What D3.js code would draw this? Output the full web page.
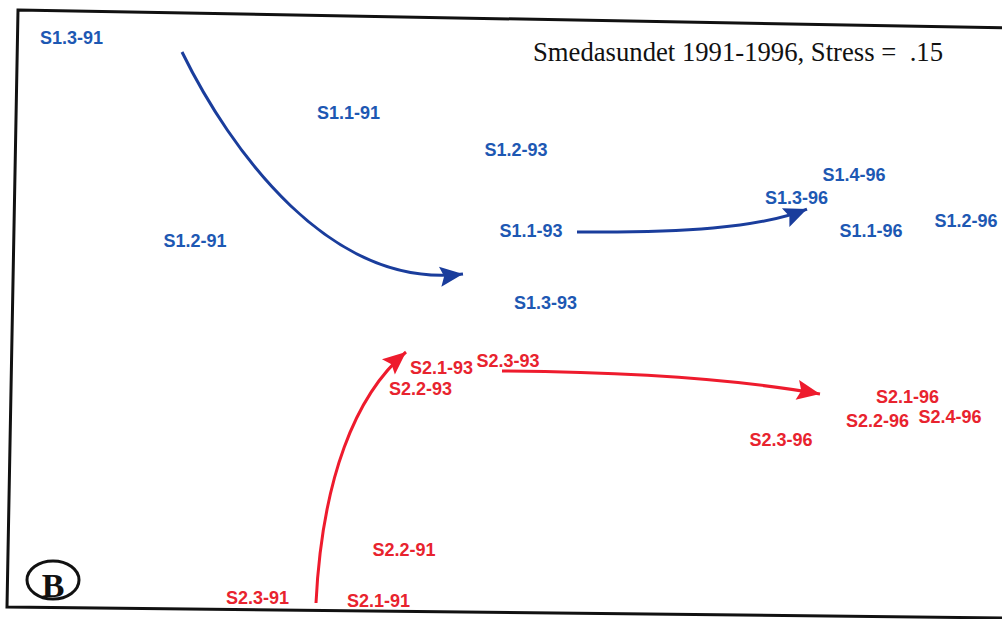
<!DOCTYPE html>
<html><head><meta charset="utf-8">
<script src="https://cdn.jsdelivr.net/npm/d3@7"></script>
<style>html,body{margin:0;padding:0;background:#fff;}svg{display:block;}</style>
</head><body>
<script>
// MDS configuration (dimension 1, dimension 2)
const blueLabels = ["S1.3-91","S1.1-91","S1.2-91","S1.2-93","S1.1-93","S1.3-93","S1.4-96","S1.3-96","S1.1-96","S1.2-96"];
const blueDim1   = [-1.714,-0.606,-1.22,0.064,0.124,0.182,1.416,1.186,1.484,1.864];
const blueDim2   = [1.817,1.317,0.463,1.07,0.53,0.05,0.903,0.75,0.53,0.597];

const redLabels = ["S2.1-93","S2.2-93","S2.3-93","S2.2-91","S2.3-91","S2.1-91","S2.1-96","S2.2-96","S2.4-96","S2.3-96"];
const redDim1   = [-0.234,-0.318,0.032,-0.384,-0.97,-0.486,1.63,1.51,1.8,1.124];
const redDim2   = [-0.385,-0.525,-0.337,-1.597,-1.917,-1.937,-0.577,-0.737,-0.71,-0.863];

// trajectory arrows: start, control1, control2, end (dim1, dim2)
const blueArrow1 = [[-1.272,1.72],[-1.08,1.067],[-0.68,0.133],[-0.148,0.24]];
const blueArrow2 = [[0.308,0.52],[0.72,0.513],[1.04,0.547],[1.228,0.673]];
const redArrow1  = [[-0.736,-1.953],[-0.712,-1.133],[-0.58,-0.567],[-0.376,-0.28]];
const redArrow2  = [[0.008,-0.407],[0.48,-0.413],[0.92,-0.453],[1.28,-0.56]];

const title = "Smedasundet 1991-1996, Stress =  .15";
const panel = "B";

const W = 1002, H = 619;
const x = d3.scaleLinear().domain([-2,2]).range([0,1000]);
const y = d3.scaleLinear().domain([-2,2]).range([610,10]);

const svg = d3.select("body").append("svg").attr("width",W).attr("height",H);
const defs = svg.append("defs");
function marker(id,color){
  defs.append("marker").attr("id",id).attr("markerUnits","userSpaceOnUse")
    .attr("viewBox","-26 -12 28 24").attr("refX",0).attr("refY",0)
    .attr("markerWidth",28).attr("markerHeight",24).attr("orient","auto")
    .append("path").attr("d","M-23,-10 L0,0 L-23,10 L-19,0 Z").attr("fill",color);
}
const BLUE_T="#1d58b3", BLUE_A="#1a3d9c", RED_T="#e8232e", RED_A="#ee1b2d";
marker("mb",BLUE_A); marker("mr",RED_A);

// frame (scanned, slightly skewed)
svg.append("path").attr("d","M18,10 L1012,28 L1006,618 L7,607 Z")
  .attr("fill","none").attr("stroke","#111").attr("stroke-width",3);

function arrow(pts,color,m){
  const p = d3.path();
  const s = pts.map(d=>[x(d[0]),y(d[1])]);
  p.moveTo(s[0][0],s[0][1]);
  p.bezierCurveTo(s[1][0],s[1][1],s[2][0],s[2][1],s[3][0],s[3][1]);
  svg.append("path").attr("d",p.toString()).attr("fill","none")
    .attr("stroke",color).attr("stroke-width",3).attr("marker-end",`url(#${m})`);
}
arrow(blueArrow1,BLUE_A,"mb");
arrow(blueArrow2,BLUE_A,"mb");
arrow(redArrow1,RED_A,"mr");
arrow(redArrow2,RED_A,"mr");

function labels(names,d1,d2,color){
  svg.append("g").selectAll("text").data(names).join("text")
    .attr("x",(d,i)=>x(d1[i])).attr("y",(d,i)=>y(d2[i])).attr("dy","0.36em")
    .attr("text-anchor","middle").attr("fill",color)
    .attr("font-family","'Liberation Sans', Arial, sans-serif").attr("font-weight","bold")
    .attr("font-size",18).text(d=>d);
}
labels(blueLabels,blueDim1,blueDim2,BLUE_T);
labels(redLabels,redDim1,redDim2,RED_T);

svg.append("text").attr("x",533).attr("y",61).attr("fill","#111")
  .attr("font-family","'Liberation Serif', 'Times New Roman', serif").attr("font-size",27)
  .attr("textLength",410).attr("lengthAdjust","spacingAndGlyphs")
  .style("white-space","pre").text(title);

svg.append("ellipse").attr("cx",53).attr("cy",580).attr("rx",26).attr("ry",19)
  .attr("fill","none").attr("stroke","#111").attr("stroke-width",3);
svg.append("text").attr("x",53).attr("y",597).attr("text-anchor","middle")
  .attr("font-family","'Liberation Serif', 'Times New Roman', serif").attr("font-weight","bold")
  .attr("font-size",34).attr("fill","#111").text(panel);
</script>
</body></html>
